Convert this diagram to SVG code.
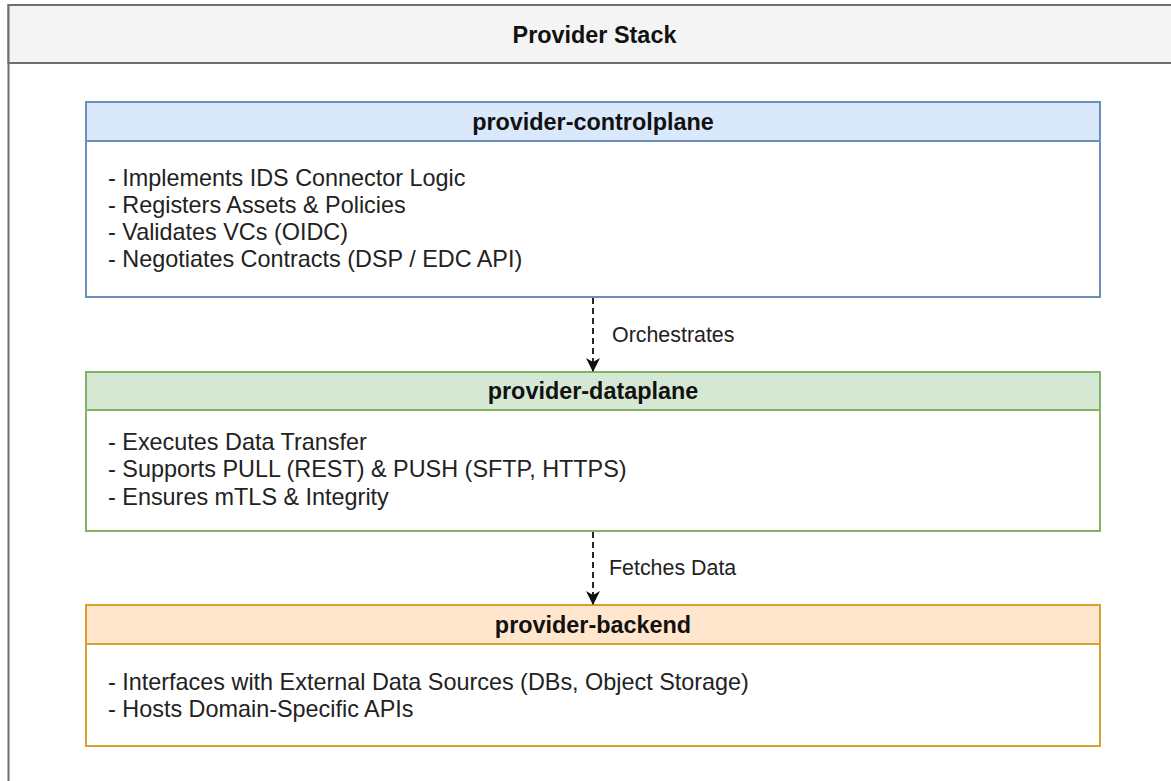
<svg xmlns="http://www.w3.org/2000/svg" width="1171" height="781" viewBox="0 0 1171 781">
  <defs>
    <style>
      .title { font-family: "Liberation Sans", Arial, sans-serif; font-weight: bold; font-size: 23.4px; fill: #111; text-anchor: middle; }
      .body { font-family: "Liberation Sans", Arial, sans-serif; font-size: 23.4px; fill: #222; }
      .elabel { font-family: "Liberation Sans", Arial, sans-serif; font-size: 21.4px; fill: #222; }
      .edge { fill: none; stroke: #111; stroke-width: 1.8; stroke-dasharray: 6 4; }
      .blue { fill: #dae8fc; stroke: #6c8ebf; stroke-width: 2; }
      .green { fill: #d5e8d4; stroke: #82b366; stroke-width: 2; }
      .orange { fill: #ffe6cc; stroke: #d6a12c; stroke-width: 2; }
      .panel { fill: #ffffff; stroke-width: 2; }
    </style>
    <marker id="arrow" viewBox="0 0 14 14" refX="13" refY="7" markerWidth="14" markerHeight="14" markerUnits="userSpaceOnUse" orient="auto">
      <path d="M0,0 L14,7 L0,14 L4,7 Z" fill="#111"/>
    </marker>
  </defs>

  <rect x="0" y="0" width="1171" height="781" fill="#ffffff"/>

  <!-- outer container -->
  <g id="provider-stack">
    <rect x="8.5" y="5" width="1180" height="800" fill="#ffffff" stroke="#6e6e6e" stroke-width="2"/>
    <rect x="8.5" y="5" width="1180" height="58" fill="#f4f4f4" stroke="#6e6e6e" stroke-width="2"/>
    <text class="title" x="594.5" y="42.5">Provider Stack</text>
  </g>

  <!-- control plane -->
  <g id="provider-controlplane">
    <rect class="panel" x="86" y="102" width="1014" height="195" stroke="#6c8ebf"/>
    <rect class="blue" x="86" y="102" width="1014" height="39"/>
    <text class="title" x="593" y="130">provider-controlplane</text>
    <text class="body" x="108" y="186">- Implements IDS Connector Logic</text>
    <text class="body" x="108" y="213">- Registers Assets &amp; Policies</text>
    <text class="body" x="108" y="240">- Validates VCs (OIDC)</text>
    <text class="body" x="108" y="267">- Negotiates Contracts (DSP / EDC API)</text>
  </g>

  <!-- data plane -->
  <g id="provider-dataplane">
    <rect class="panel" x="86" y="372" width="1014" height="159" stroke="#82b366"/>
    <rect class="green" x="86" y="372" width="1014" height="38"/>
    <text class="title" x="593" y="399">provider-dataplane</text>
    <text class="body" x="108" y="450">- Executes Data Transfer</text>
    <text class="body" x="108" y="477">- Supports PULL (REST) &amp; PUSH (SFTP, HTTPS)</text>
    <text class="body" x="108" y="505">- Ensures mTLS &amp; Integrity</text>
  </g>

  <!-- backend -->
  <g id="provider-backend">
    <rect class="panel" x="86" y="605" width="1014" height="141" stroke="#d6a12c"/>
    <rect class="orange" x="86" y="605" width="1014" height="39"/>
    <text class="title" x="593" y="633">provider-backend</text>
    <text class="body" x="108" y="690">- Interfaces with External Data Sources (DBs, Object Storage)</text>
    <text class="body" x="108" y="717">- Hosts Domain-Specific APIs</text>
  </g>

  <!-- connectors -->
  <g id="connectors">
    <line class="edge" x1="593" y1="298" x2="593" y2="371" marker-end="url(#arrow)"/>
    <text class="elabel" x="612" y="342">Orchestrates</text>
    <line class="edge" x1="593" y1="532" x2="593" y2="604" marker-end="url(#arrow)"/>
    <text class="elabel" x="609" y="575">Fetches Data</text>
  </g>
</svg>
